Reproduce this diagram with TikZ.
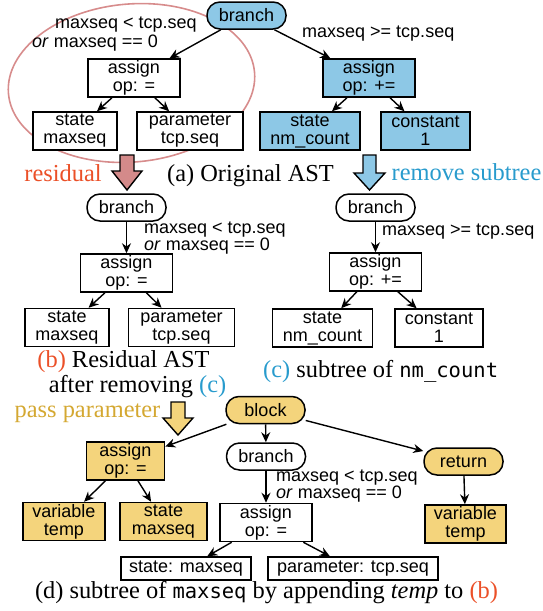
\documentclass[tikz,border=0pt]{standalone}
\usepackage{fontspec}
\setmainfont{Liberation Serif}
\setsansfont{Liberation Sans}
\newfontfamily\codefont{DejaVu Sans Mono}
\usetikzlibrary{arrows.meta}
\definecolor{bluefill}{RGB}{141,200,230}
\definecolor{yellowfill}{RGB}{244,212,124}
\definecolor{redarrow}{RGB}{212,138,138}
\definecolor{ellipsecol}{RGB}{215,140,140}
\definecolor{redtext}{RGB}{235,80,40}
\definecolor{bluetext}{RGB}{40,155,205}
\definecolor{goldtext}{RGB}{212,168,50}
\tikzset{
  box/.style={draw, line width=1.5pt, fill=white, font=\sffamily\fontsize{18}{18}\selectfont, align=center, inner sep=0pt, minimum height=38pt},
  pill/.style={box, rounded corners=13pt, minimum height=27pt, minimum width=79pt},
  flatbox/.style={box, minimum height=23pt},
  arr/.style={-{Stealth[length=10pt,width=9pt]}, line width=1.4pt},
  lab/.style={font=\sffamily\fontsize{18}{18}\selectfont, anchor=west, inner sep=0pt},
  captxt/.style={font=\fontsize{24.4}{26}\selectfont, inner sep=0pt},
  blockarr/.style={draw=black, line width=1.4pt, line join=miter}
}
\begin{document}
\begin{tikzpicture}[x=1pt,y=-1pt]
\useasboundingbox (0,0) rectangle (543,611);
% ellipse (residual region)
\draw[ellipsecol, line width=1.6pt, rotate around={5:(131.5,83)}] (131.5,83) ellipse [x radius=123.5pt, y radius=79pt];

% ---------- (a) Original AST ----------
\node[pill, fill=bluefill] (brA) at (246.5,15.5) {branch};
\node[box, minimum width=92pt] (asA) at (134,78) {assign\\op: =};
\node[box, minimum width=84pt] (stA) at (75,131) {state\\maxseq};
\node[box, minimum width=106pt] (paA) at (190,131) {parameter\\tcp.seq};
\node[box, fill=bluefill, minimum width=92pt] (asB) at (369,78) {assign\\op: +=};
\node[box, fill=bluefill, minimum width=100pt] (stB) at (310,131) {state\\nm\_count};
\node[box, fill=bluefill, minimum width=89pt] (coB) at (425.5,131) {constant\\1};
\node[lab] (lA1) at (55,25) {maxseq < tcp.seq};
\node[lab] (lA2) at (32,43) {\textit{or} maxseq == 0};
\node[lab] (lA3) at (302,34) {maxseq >= tcp.seq};
\draw[arr] (brA) -- (asA);
\draw[arr] (brA) -- (asB);
\draw[arr] (asA) -- (stA);
\draw[arr] (asA) -- (paA);
\draw[arr] (asB) -- (stB);
\draw[arr] (asB) -- (coB);

% block arrows and captions
\draw[blockarr, fill=redarrow] (120,155) -- (134,155) -- (134,171) -- (142,171) -- (127,190) -- (112,171) -- (120,171) -- cycle;
\draw[blockarr, fill=bluefill] (363,155) -- (376,155) -- (376,173) -- (385,173) -- (369.5,190) -- (354,173) -- (363,173) -- cycle;
\node[captxt, text=redtext] (capRes) at (63,173) {residual};
\node[captxt] (capA) at (250.5,176) {(a) Original AST};
\node[captxt, text=bluetext] (capRem) at (466.5,172) {remove subtree};

% ---------- (b) Residual AST ----------
\node[pill] (brC) at (126.5,207.5) {branch};
\node[box, minimum width=92pt] (asC) at (126.5,273) {assign\\op: =};
\node[box, minimum width=84pt] (stC) at (67,327.5) {state\\maxseq};
\node[box, minimum width=106pt] (paC) at (181.5,327.5) {parameter\\tcp.seq};
\node[lab] (lC1) at (144,230) {maxseq < tcp.seq};
\node[lab] (lC2) at (144,246) {\textit{or} maxseq == 0};
\draw[arr] (brC) -- (asC);
\draw[arr] (asC) -- (stC);
\draw[arr] (asC) -- (paC);
\node[captxt] (capB1) at (123.5,362) {\textcolor{redtext}{(b)} Residual AST};
\node[captxt] (capB2) at (137.5,387) {after removing \textcolor{bluetext}{(c)}};

% ---------- (c) subtree of nm_count ----------
\node[pill] (brD) at (375.5,207.5) {branch};
\node[box, minimum width=92pt] (asD) at (375.5,272) {assign\\op: +=};
\node[box, minimum width=100pt] (stD) at (322.5,328) {state\\nm\_count};
\node[box, minimum width=88pt] (coD) at (439,328) {constant\\1};
\node[lab] (lD1) at (382,232) {maxseq >= tcp.seq};
\draw[arr] (brD) -- (asD);
\draw[arr] (asD) -- (stD);
\draw[arr] (asD) -- (coD);
\node[captxt, anchor=west] (capC) at (263,372) {\textcolor{bluetext}{(c)} subtree of {\codefont\fontsize{20.5}{22}\selectfont nm\_count}};

% ---------- (d) subtree of maxseq ----------
\draw[blockarr, fill=yellowfill] (171,402) -- (185,402) -- (185,418) -- (193,418) -- (178,435) -- (163,418) -- (171,418) -- cycle;
\node[captxt, text=goldtext] (capPass) at (87.5,413) {pass parameter};
\node[pill, fill=yellowfill] (blE) at (265.5,410) {block};
\node[box, fill=yellowfill, minimum width=78pt] (asY) at (125.5,461) {assign\\op: =};
\node[box, fill=yellowfill, minimum width=82pt] (vaY) at (64,521.5) {variable\\temp};
\node[box, fill=yellowfill, minimum width=87pt] (stY) at (163.5,521.5) {state\\maxseq};
\node[pill] (brE) at (266,456.5) {branch};
\node[box, minimum width=92pt] (asE) at (266,522.5) {assign\\op: =};
\node[flatbox, minimum width=130pt] (stE) at (186,568.5) {state: maxseq};
\node[flatbox, minimum width=170pt] (paE) at (353,568.5) {parameter: tcp.seq};
\node[pill, fill=yellowfill] (reE) at (463.5,461.5) {return};
\node[box, fill=yellowfill, minimum width=81pt] (vaE) at (465.5,524) {variable\\temp};
\node[lab] (lE1) at (276,478) {maxseq < tcp.seq};
\node[lab] (lE2) at (276,494) {\textit{or} maxseq == 0};
\draw[arr] (blE) -- (asY);
\draw[arr] (blE) -- (brE);
\draw[arr] (blE) -- (reE);
\draw[arr] (asY) -- (vaY);
\draw[arr] (asY) -- (stY);
\draw[arr] (brE) -- (asE);
\draw[arr] (asE) -- (stE);
\draw[arr] (asE) -- (paE);
\draw[arr] (reE) -- (vaE);
\node[captxt] (capD) at (266.5,593) {(d) subtree of {\codefont\fontsize{20.5}{22}\selectfont maxseq} by appending \textit{temp} to \textcolor{redtext}{(b)}};
\end{tikzpicture}
\end{document}
